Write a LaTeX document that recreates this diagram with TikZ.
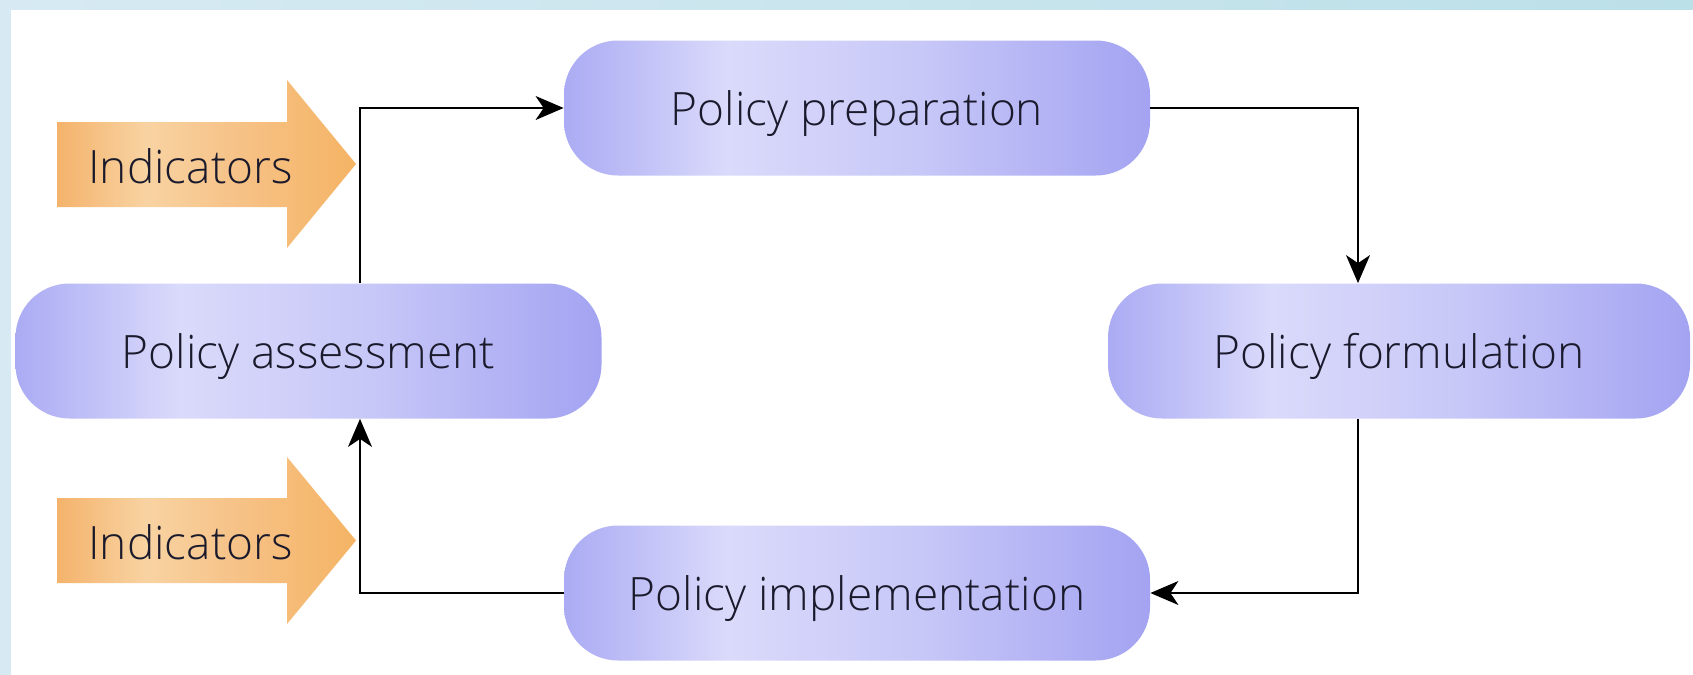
\documentclass[tikz,border=0pt]{standalone}
\usepackage{fontspec}
\setmainfont{Open Sans}[UprightFont=* Light]
\usetikzlibrary{arrows.meta}
\definecolor{bxA}{HTML}{ABABF4}
\definecolor{bxB}{HTML}{DADAFB}
\definecolor{bxM}{HTML}{C8C8F8}
\definecolor{bxC}{HTML}{A3A3F2}
\definecolor{orA}{HTML}{F4B36C}
\definecolor{orB}{HTML}{F8D3A2}
\definecolor{orM}{HTML}{F6C287}
\definecolor{orC}{HTML}{F5B465}
\definecolor{frL}{HTML}{D7EAF3}
\definecolor{frR}{HTML}{BCE0E8}
\definecolor{txt}{HTML}{1A1A2C}
\pgfdeclarehorizontalshading{boxshade}{100bp}{color(0bp)=(bxA); color(25bp)=(bxA); color(39bp)=(bxB); color(55bp)=(bxM); color(75bp)=(bxC); color(100bp)=(bxC)}
\pgfdeclarehorizontalshading{orshade}{100bp}{color(0bp)=(orA); color(25bp)=(orA); color(40bp)=(orB); color(55bp)=(orM); color(75bp)=(orC); color(100bp)=(orC)}
\tikzset{
  stage/.style={shading=boxshade, rounded corners=27pt, minimum width=293pt, minimum height=67.5pt, inner sep=0pt, text depth=0pt, font=\fontsize{23}{26}\selectfont, text=txt},
  conn/.style={draw=black, line width=1pt, -{Stealth[length=14pt,width=12pt,inset=4pt,line width=0.6pt]}},
  indtext/.style={font=\fontsize{23}{26}\selectfont, text=txt, inner sep=0pt, anchor=west},
  indarrow/.style={shading=orshade}
}
\begin{document}
\begin{tikzpicture}[x=0.5pt,y=-0.5pt]
\useasboundingbox (0,0) rectangle (1693,675);
\fill[white] (0,0) rectangle (1693,675);
\shade[left color=frL, right color=frR] (0,0) rectangle (1693,9);
\fill[frL] (0,0) rectangle (11,675);

% indicator arrows
\shade[indarrow] (57,122) -- (287,122) -- (287,80) -- (356,164) -- (287,248) -- (287,207) -- (57,207) -- cycle;
\node[indtext] (ind1) at (88,166) {Indicators};
\shade[indarrow] (57,498) -- (287,498) -- (287,457) -- (356,540.5) -- (287,624) -- (287,583) -- (57,583) -- cycle;
\node[indtext] (ind2) at (88,542) {Indicators};

% stages
\node[stage] (prep) at (857,108) {Policy preparation};
\node[stage] (assess) at (308.5,351) {Policy assessment};
\node[stage, minimum width=291pt] (form) at (1399,351) {Policy formulation};
\node[stage] (impl) at (857,593) {Policy implementation};

\coordinate (c1) at (360,0);
\coordinate (c2) at (1358,0);

\draw[conn] (assess.north -| c1) |- (prep.west);
\draw[conn] (prep.east) -| (form.north -| c2);
\draw[conn] (form.south -| c2) |- (impl.east);
\draw[conn] (impl.west) -| (assess.south -| c1);
\end{tikzpicture}
\end{document}
